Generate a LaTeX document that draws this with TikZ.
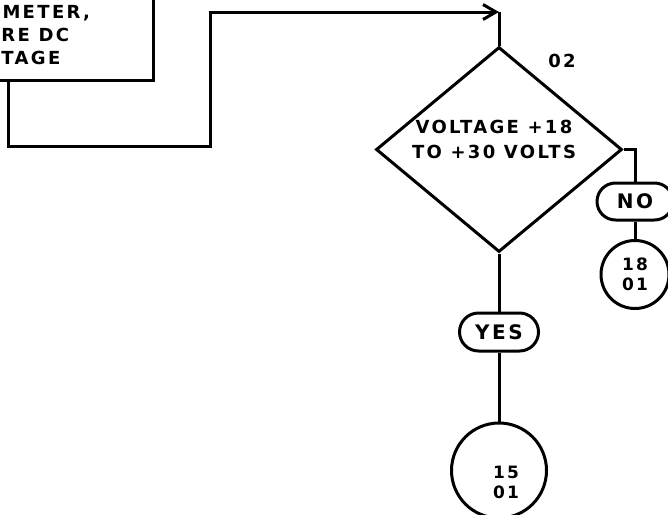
\documentclass[tikz,border=0pt]{standalone}
\usepackage{fontspec}
\newfontfamily\lettering[LetterSpace=13]{DejaVu Sans}
\usetikzlibrary{arrows.meta, positioning, shapes.geometric, shapes.misc}

\begin{document}
\begin{tikzpicture}[x=1pt, y=-1pt, line width=3pt,
    every node/.style={font=\lettering\bfseries\fontsize{18}{25}\selectfont, inner sep=0pt},
    term/.style={draw, rounded rectangle, font=\lettering\bfseries\fontsize{20}{22}\selectfont},
    conn/.style={draw, circle, align=center, font=\lettering\bfseries\fontsize{17}{20}\selectfont}]
    \useasboundingbox (0, 0) rectangle (668, 514);
    \clip (0, 0) rectangle (668, 514);

    % Measure box (cut off)
    \node[draw, minimum width=223pt, minimum height=120pt] (meas) at (41.5, 20) {};
    \node[anchor=base west] at (1, 18) {METER,};
    \node[anchor=base west] at (0, 41) {RE DC};
    \node[anchor=base west] at (0, 64) {TAGE};

    % Decision 02
    \node[draw, diamond, minimum width=246pt, minimum height=205pt] (dia) at (499, 149.5) {};
    \node[align=center] at (494, 139) {VOLTAGE +18\\TO +30 VOLTS};
    \node at (562, 61) {02};

    \coordinate (m1) at (8, 0);
    \coordinate (m2) at (210, 146);
    \coordinate (m3) at (499, 12);
    \draw[-{Straight Barb[length=13pt, width=15pt]}] (meas.south -| m1) |- (m2) |- (m3);
    \draw (m3) -- (dia.north);

    % No branch
    \node[term, minimum width=76pt, minimum height=37pt] (no) at (635, 201.5) {NO};
    \node[conn, minimum size=68pt] (c18) at (635, 274.5) {18\\01};
    \draw (dia.east) -| (no.north);
    \draw (no.south) -- (c18.north);

    % Yes branch
    \node[term, minimum width=79pt, minimum height=38pt] (yes) at (499, 332) {YES};
    \node[conn, minimum size=95pt] (c15) at (499, 470.5) {};
    \node[align=center, font=\lettering\bfseries\fontsize{17}{20}\selectfont] at (506, 482) {15\\01};
    \draw (dia.south) -- (yes.north);
    \draw (yes.south) -- (c15.north);
\end{tikzpicture}
\end{document}
